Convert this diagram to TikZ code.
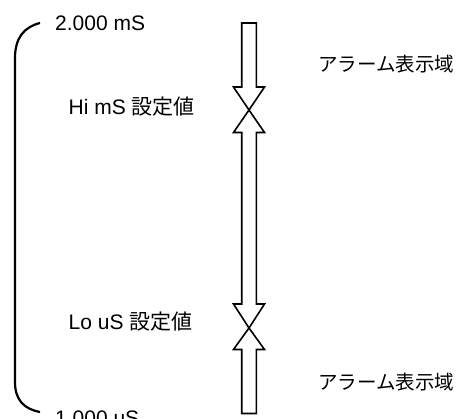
\documentclass[tikz,border=0pt]{standalone}
\usepackage{fontspec}
\setmainfont{Liberation Sans}
\newfontfamily\cjk{Noto Sans CJK JP}
\begin{document}
\begin{tikzpicture}[x=1pt,y=-1pt,
  lbl/.style={inner sep=0pt, font=\fontsize{21}{25}\selectfont},
  cjklbl/.style={inner sep=0pt, font=\fontsize{19.5}{24}\selectfont\cjk},
  arr/.style={draw=black, line width=1.6pt, line join=miter, fill=white},
  brace/.style={draw=black, line width=2.2pt}]
\useasboundingbox (0,0) rectangle (460,419);
\clip (0,0) rectangle (460,419);
\def\cx{249}
\def\sw{7.3}
\def\hw{15.5}
% top arrow (down)
\draw[arr] (\cx-\sw,23) -- (\cx+\sw,23) -- (\cx+\sw,87) -- (\cx+\hw,87) -- (\cx,110)
  -- (\cx-\hw,87) -- (\cx-\sw,87) -- cycle;
% middle double arrow
\draw[arr] (\cx,110) -- (\cx+\hw,132.5) -- (\cx+\sw,132.5) -- (\cx+\sw,304) -- (\cx+\hw,304)
  -- (\cx,328) -- (\cx-\hw,304) -- (\cx-\sw,304) -- (\cx-\sw,132.5) -- (\cx-\hw,132.5) -- cycle;
% bottom arrow (up)
\draw[arr] (\cx,328) -- (\cx+\hw,349.5) -- (\cx+\sw,349.5) -- (\cx+\sw,413.5)
  -- (\cx-\sw,413.5) -- (\cx-\sw,349.5) -- (\cx-\hw,349.5) -- cycle;
% brace
\coordinate (bt) at (40,23);
\coordinate (bb) at (40,412);
\draw[brace] (bt) .. controls (24,27) and (15,38) .. (15,58) -- (15,382)
  .. controls (15,400) and (24,409) .. (bb);
% labels
\node[lbl, anchor=base west] (top) at (55,30.5) {2.000 mS};
\node[lbl, anchor=base west] (bot) at (55,425) {1.000 uS};
\node[lbl, anchor=base west] (hi) at (68.5,114.5) {Hi mS {\cjk 設定値}};
\node[lbl, anchor=base west] (lo) at (68.5,329.5) {Lo uS {\cjk 設定値}};
\node[cjklbl, anchor=west] (al1) at (318,64) {アラーム表示域};
\node[cjklbl, anchor=west] (al2) at (318,382) {アラーム表示域};
\end{tikzpicture}
\end{document}
